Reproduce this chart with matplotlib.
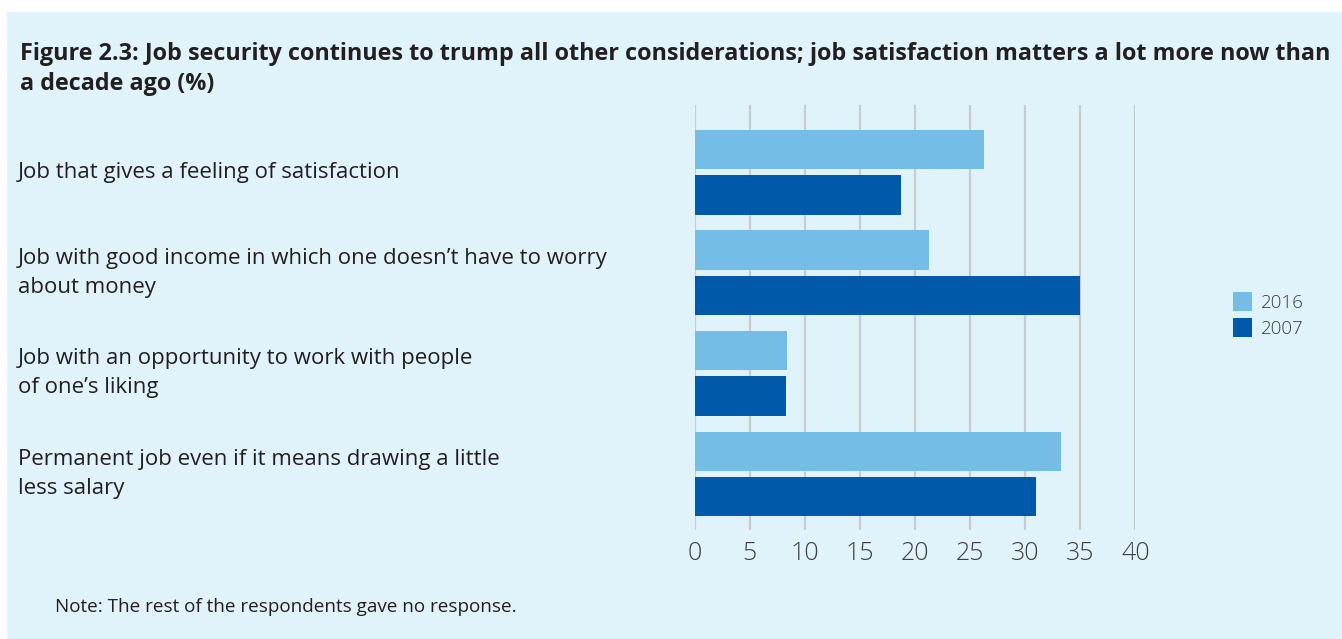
import numpy as np
import matplotlib
matplotlib.use("Agg")
import matplotlib.pyplot as plt
from matplotlib.patches import Rectangle
from matplotlib.transforms import blended_transform_factory

# Survey answers, top to bottom
categories = [
    "Job that gives a feeling of satisfaction",
    "Job with good income in which one doesn\u2019t have to worry\nabout money",
    "Job with an opportunity to work with people\nof one\u2019s liking",
    "Permanent job even if it means drawing a little\nless salary",
]
vals_2016 = [26.3, 21.3, 8.4, 33.3]
vals_2007 = [18.7, 35.0, 8.3, 31.0]
xticks = [0, 5, 10, 15, 20, 25, 30, 35, 40]

bg = "#E1F3FA"
light = "#74BDE7"
dark = "#005AA9"
text_col = "#231F20"

W, H = 1342, 639
fig = plt.figure(figsize=(W / 100, H / 100), dpi=100)
fig.patch.set_facecolor("white")
# light blue panel behind everything
fig.add_artist(Rectangle((7 / W, 0), 1 - 7 / W, 1 - 12 / H,
                         transform=fig.transFigure, facecolor=bg,
                         edgecolor="none", zorder=-10))

ax = fig.add_axes([694.7 / W, 1 - 530 / H, (1135.3 - 694.7) / W, (530 - 105) / H])
ax.set_facecolor("none")

y = np.arange(len(categories))
bh = 0.393
off = 0.226
ax.barh(y - off, vals_2016, height=bh, color=light, label="2016", zorder=3)
ax.barh(y + off, vals_2007, height=bh, color=dark, label="2007", zorder=3)

ax.set_xlim(0, 40)
ax.set_ylim(3.557, -0.67)
ax.set_xticks(xticks)
ax.set_xticklabels([str(t) for t in xticks], fontsize=18, color="#3f3f3f",
                   family="Open Sans", fontweight="light")
ax.tick_params(axis="x", length=0, pad=8)
ax.set_yticks([])
ax.grid(axis="x", color="#C8CBCF", linewidth=1.6, zorder=0)
for s in ax.spines.values():
    s.set_visible(False)

# category labels sit at the far left, centred on each pair of bars
trans = blended_transform_factory(fig.transFigure, ax.transData)
for i, lab in enumerate(categories):
    ax.text(18 / W, i, lab, transform=trans, ha="left", va="center",
            fontsize=16, color=text_col, family="Open Sans", linespacing=1.5)

fig.text(20 / W, 1 - 69 / H,
         "Figure 2.3: Job security continues to trump all other considerations; job satisfaction matters a lot more now than\na decade ago (%)",
         ha="left", va="center", fontsize=16.8, fontweight="bold", color=text_col,
         family="Open Sans", linespacing=1.32)

fig.legend(loc="center left", bbox_to_anchor=(1216 / W, 1 - 315 / H), frameon=False,
           handlelength=1.0, handleheight=1.2, handletextpad=0.5, labelspacing=0.3,
           prop={"family": "Open Sans", "size": 13.5, "weight": "light"},
           labelcolor="#3a3a3a")

fig.text(55 / W, 1 - 607 / H, "Note: The rest of the respondents gave no response.",
         ha="left", va="center", fontsize=13.6, color=text_col, family="Open Sans")

plt.savefig("out.png", dpi=100)
